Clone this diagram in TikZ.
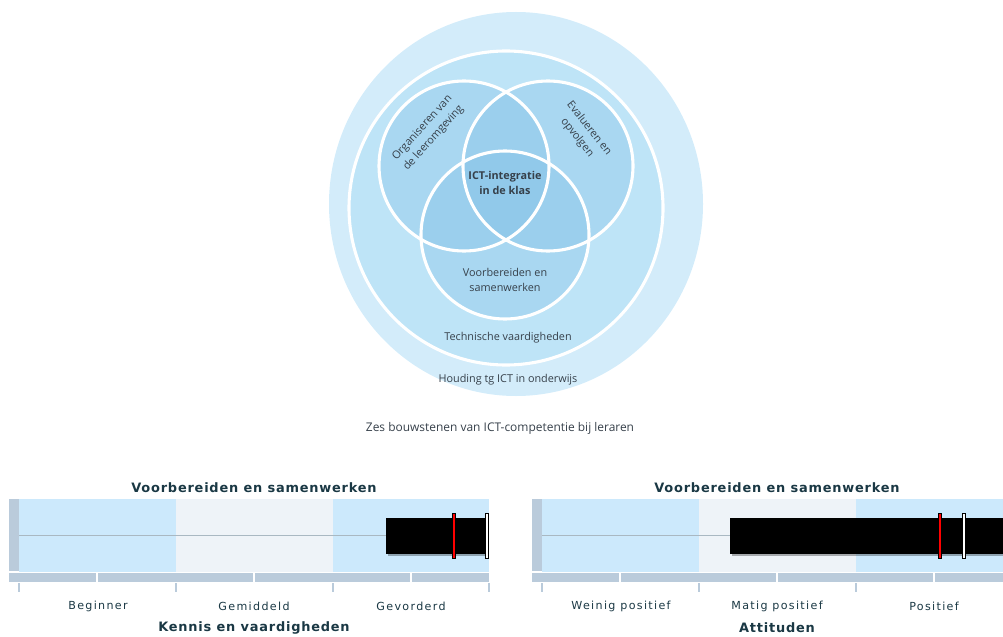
\documentclass[tikz,border=0pt]{standalone}
\usepackage{fontspec}
\setmainfont{Open Sans}
\newfontfamily\panelfont[LetterSpace=12]{DejaVu Sans}
\newfontfamily\paneltitlefont[LetterSpace=6]{DejaVu Sans Bold}
\definecolor{outerblue}{HTML}{D3ECFA}
\definecolor{ringblue}{HTML}{BEE4F7}
\definecolor{vennblue}{HTML}{7FBFE6}
\definecolor{labelgray}{HTML}{36404A}
\definecolor{paneltext}{HTML}{1A3844}
\definecolor{bandblue}{HTML}{CCE9FC}
\definecolor{bandgray}{HTML}{EEF3F8}
\definecolor{railgray}{HTML}{BACBDB}
\definecolor{axisgray}{HTML}{A9B8C2}
\tikzset{
  vennfill/.style={fill=vennblue, fill opacity=0.33},
  whiteline/.style={draw=white, line width=2.2pt},
  circletext/.style={text=labelgray, align=center, inner sep=1pt, font=\fontsize{7.7}{10.7}\selectfont},
  paneltitle/.style={text=paneltext, font=\paneltitlefont\fontsize{9.2}{10}\selectfont},
  ticklabel/.style={text=paneltext, font=\panelfont\fontsize{7.9}{10}\selectfont},
  marker/.style={draw=black, line width=0.4pt}
}
\begin{document}
\begin{tikzpicture}[x=0.025cm, y=-0.025cm]
  \useasboundingbox (0,0) rectangle (1003,636);
  \clip (0,0) rectangle (1003,636);
  % circles
  \coordinate (mid) at (516,204);
  \coordinate (ring) at (506,208);
  \coordinate (org) at (464,166);
  \coordinate (eva) at (548,166);
  \coordinate (voo) at (505,235);
  \fill[outerblue] (mid) circle[x radius=187, y radius=192];
  \fill[ringblue] (ring) circle (157);
  \fill[vennfill] (org) circle (85);
  \fill[vennfill] (eva) circle (85);
  \fill[vennfill] (voo) circle (84);
  \draw[whiteline] (ring) circle (157);
  \draw[whiteline] (org) circle (85);
  \draw[whiteline] (eva) circle (85);
  \draw[whiteline] (voo) circle (84);
  \node[circletext, font=\bfseries\fontsize{7.7}{10.7}\selectfont] (ict) at (505,183) {ICT-integratie\\in de klas};
  \node[circletext, rotate=48] (orglabel) at (428,133) {Organiseren van\\de leeromgeving};
  \node[circletext, rotate=-52] (evalabel) at (583,133) {Evalueren en\\opvolgen};
  \node[circletext] (voolabel) at (505,280) {Voorbereiden en\\samenwerken};
  \node[circletext] (tech) at (508,338) {Technische vaardigheden};
  \node[circletext] (houding) at (508,380) {Houding tg ICT in onderwijs};
  \node[circletext, font=\fontsize{8.5}{10}\selectfont] (caption) at (500,428) {Zes bouwstenen van ICT-competentie bij leraren};
  % panels
  \foreach \dx/\la/\lb/\lc/\foot in {0/Beginner/Gemiddeld/Gevorderd/Kennis en vaardigheden,
      523/Weinig positief/Matig positief/Positief/Attituden}{
    \begin{scope}[shift={(\dx,0)}]
      \fill[railgray] (9,499) rectangle (19,571);
      \fill[bandblue] (19,499) rectangle (176,572);
      \fill[bandgray] (176,499) rectangle (333,572);
      \fill[bandblue] (333,499) rectangle (489,572);
      \fill[railgray] (9,573) rectangle (489,582);
      \foreach \t in {97,254,411}
        \draw[white, line width=1.2pt] (\t,573) -- (\t,582);
      \foreach \t in {19,176,333,489}
        \draw[railgray, line width=0.8pt] (\t,583) -- (\t,592);
      \draw[axisgray, line width=0.7pt] (19,535) -- (489,535);
      \node[paneltitle] (title\dx) at (254,488) {Voorbereiden en samenwerken};
      \node[ticklabel] (la\dx) at (98,606) {\la};
      \node[ticklabel] (lb\dx) at (254,606) {\lb};
      \node[ticklabel] (lc\dx) at (411,606) {\lc};
      \node[paneltitle] (foot\dx) at (254,628) {\foot};
    \end{scope}}
  % bars
  \fill[black, opacity=0.3] (388,520) rectangle (489,556);
  \fill[black] (386,518) rectangle (487,554);
  \filldraw[marker, fill=red] (452.5,513) rectangle (455.5,558);
  \filldraw[marker, fill=white] (485.5,513) rectangle (488.5,558);
  \fill[black, opacity=0.3] (732,520) rectangle (1010,556);
  \fill[black] (730,518) rectangle (1010,554);
  \filldraw[marker, fill=red] (938.5,513) rectangle (941.5,558);
  \filldraw[marker, fill=white] (962.5,513) rectangle (965.5,558);
\end{tikzpicture}
\end{document}
